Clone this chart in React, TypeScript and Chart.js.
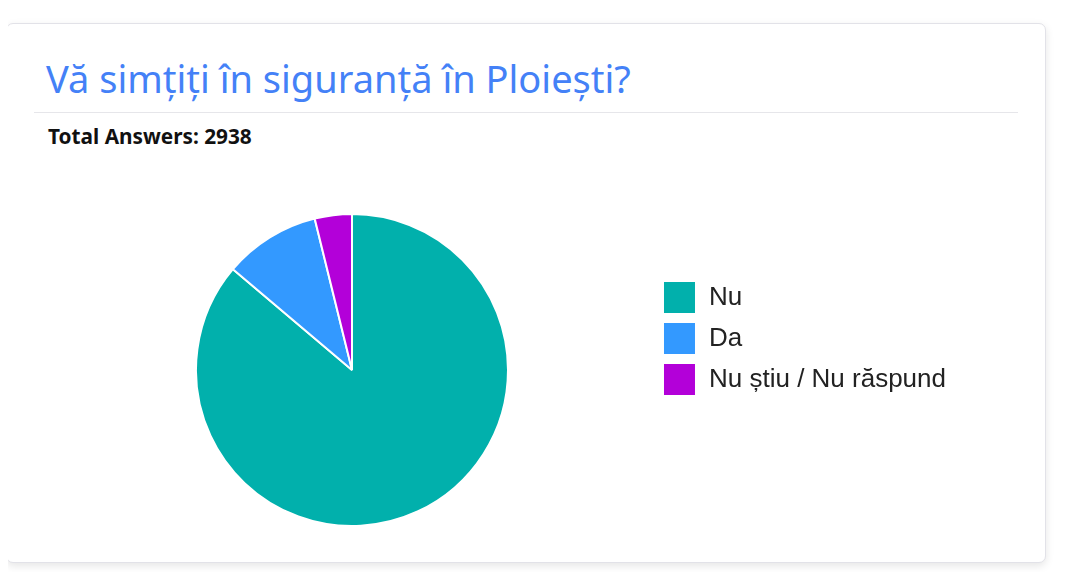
import React, { useEffect, useRef } from 'react';
import { Chart, registerables } from 'chart.js';

Chart.register(...registerables);

const labels = ['Nu', 'Da', 'Nu știu / Nu răspund'];
const answers = [2532, 293, 113];
const sliceColors = ['#01b0ac', '#3399ff', '#b300d9'];

const totalAnswers = answers.reduce((a, b) => a + b, 0);

const SafetyPie: React.FC = () => {
  const chartRef = useRef<HTMLCanvasElement>(null);
  const chartInstance = useRef<Chart | null>(null);

  useEffect(() => {
    if (!chartRef.current) return;
    if (chartInstance.current) chartInstance.current.destroy();

    chartInstance.current = new Chart(chartRef.current, {
      type: 'pie',
      data: {
        labels,
        datasets: [
          {
            data: answers,
            backgroundColor: sliceColors,
            borderColor: '#ffffff',
            borderWidth: 2
          }
        ]
      },
      options: {
        animation: false,
        responsive: true,
        maintainAspectRatio: false,
        layout: { padding: 0 },
        plugins: {
          tooltip: { enabled: false },
          legend: {
            position: 'right',
            align: 'start',
            // empty title only used to push the items down
            title: {
              display: true,
              text: ' ',
              font: { size: 10 },
              padding: { top: 48, bottom: 0 }
            },
            labels: {
              boxWidth: 33,
              boxHeight: 33,
              padding: 8,
              color: '#222',
              font: { family: '"Liberation Sans", Arial, sans-serif', size: 26 }
            }
          }
        }
      }
    });

    return () => {
      if (chartInstance.current) {
        chartInstance.current.destroy();
        chartInstance.current = null;
      }
    };
  }, []);

  return (
    <div style={{ position: 'absolute', left: 49, top: 213, width: 907, height: 314 }}>
      <canvas ref={chartRef}></canvas>
    </div>
  );
};

const App: React.FC = () => {
  return (
    <div
      style={{
        position: 'relative',
        margin: -8,
        width: 1068,
        height: 580,
        overflow: 'hidden',
        background: '#ffffff',
        fontFamily: '"Noto Sans", sans-serif'
      }}
    >
      <div style={{ position: 'absolute', left: 0, right: 0, top: 1, height: 2, background: '#e8e8ef' }} />
      <div
        style={{
          position: 'absolute',
          left: 6,
          top: 23,
          width: 1038,
          height: 538,
          border: '1px solid #e2e2e8',
          borderRadius: 7,
          boxShadow: '0 3px 8px rgba(0,0,0,0.10)',
          background: '#fff'
        }}
      />
      <div
        style={{
          position: 'absolute',
          left: 46,
          top: 54,
          fontSize: 38,
          lineHeight: '48px',
          color: '#4481f7',
          whiteSpace: 'nowrap'
        }}
      >
        Vă simțiți în siguranță în Ploiești?
      </div>
      <div style={{ position: 'absolute', left: 34, width: 984, top: 112, height: 1, background: '#e6e6ea' }} />
      <div
        style={{
          position: 'absolute',
          left: 48,
          top: 122,
          fontSize: 20.8,
          fontWeight: 'bold',
          lineHeight: '28px',
          color: '#111',
          whiteSpace: 'nowrap'
        }}
      >
        Total Answers: {totalAnswers}
      </div>
      <SafetyPie />
    </div>
  );
};

export default App;
